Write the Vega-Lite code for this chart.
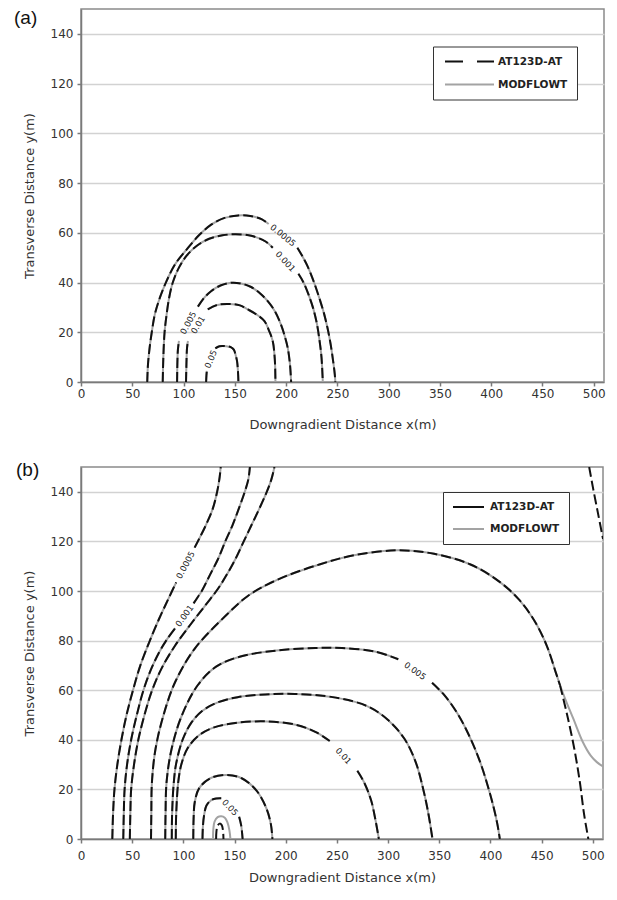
{
  "$schema": "https://vega.github.io/schema/vega-lite/v6.json",
  "padding": {"left": 13, "top": 7, "right": 4, "bottom": 4},
  "background": "white",
  "spacing": 27,
  "config": {
    "view": {"stroke": "#8a8a8a", "strokeWidth": 1.5},
    "axis": {"domainColor": "#7a7a7a", "domainWidth": 1.5, "tickColor": "#7a7a7a", "tickWidth": 1.5, "tickSize": 4, "labelFont": "DejaVu Sans", "labelFontSize": 12, "labelColor": "#333", "titleFont": "DejaVu Sans", "titleFontSize": 13, "titleFontWeight": "normal", "titleColor": "#333", "gridColor": "#d2d2d2", "gridWidth": 1.5}
  },
  "resolve": {"scale": {"color": "independent", "x": "independent", "y": "independent"}, "legend": {"color": "independent"}},
  "datasets": {
    "a": [
      {"c":"P1a","w":"both","x":64.6,"y":0},{"c":"P1a","w":"both","x":65.3,"y":7},{"c":"P1a","w":"both","x":66.9,"y":13.7},{"c":"P1a","w":"both","x":69,"y":20},{"c":"P1a","w":"both","x":72,"y":27.2},{"c":"P1a","w":"both","x":77,"y":34},{"c":"P1a","w":"both","x":83.4,"y":40.6},{"c":"P1a","w":"both","x":92,"y":47.5},{"c":"P1a","w":"both","x":104.5,"y":54},{"c":"P1a","w":"both","x":115,"y":59},{"c":"P1a","w":"both","x":127.3,"y":63.4},{"c":"P1a","w":"both","x":140,"y":66},{"c":"P1a","w":"both","x":153.3,"y":67},{"c":"P1a","w":"both","x":165,"y":66.8},{"c":"P1a","w":"both","x":176,"y":65.5},{"c":"P1a","w":"both","x":183,"y":63.5},
      {"c":"P1b","w":"both","x":211,"y":54},{"c":"P1b","w":"both","x":216,"y":50.5},{"c":"P1b","w":"both","x":221,"y":46.5},{"c":"P1b","w":"both","x":225.5,"y":42},{"c":"P1b","w":"both","x":229,"y":38},{"c":"P1b","w":"both","x":233,"y":33},{"c":"P1b","w":"both","x":237,"y":27.5},{"c":"P1b","w":"both","x":240.5,"y":21.5},{"c":"P1b","w":"both","x":243.5,"y":15},{"c":"P1b","w":"both","x":246,"y":8},{"c":"P1b","w":"both","x":247.5,"y":3},{"c":"P1b","w":"both","x":248,"y":0},
      {"c":"P2a","w":"both","x":79.7,"y":0},{"c":"P2a","w":"both","x":80.3,"y":10},{"c":"P2a","w":"both","x":81.5,"y":20},{"c":"P2a","w":"both","x":83.5,"y":27.2},{"c":"P2a","w":"both","x":86,"y":34},{"c":"P2a","w":"both","x":89.5,"y":40},{"c":"P2a","w":"both","x":95.5,"y":46},{"c":"P2a","w":"both","x":103,"y":50.8},{"c":"P2a","w":"both","x":113,"y":54.8},{"c":"P2a","w":"both","x":125,"y":57.6},{"c":"P2a","w":"both","x":138,"y":59},{"c":"P2a","w":"both","x":151,"y":59.4},{"c":"P2a","w":"both","x":166,"y":58.8},{"c":"P2a","w":"both","x":180,"y":56.5},{"c":"P2a","w":"both","x":187,"y":54},
      {"c":"P2b","w":"both","x":212,"y":43.5},{"c":"P2b","w":"both","x":217,"y":40},{"c":"P2b","w":"both","x":222,"y":35},{"c":"P2b","w":"both","x":226.5,"y":29.5},{"c":"P2b","w":"both","x":230,"y":23.5},{"c":"P2b","w":"both","x":232.5,"y":17},{"c":"P2b","w":"both","x":234.5,"y":10},{"c":"P2b","w":"both","x":235.8,"y":0},
      {"c":"P3a","w":"both","x":93.7,"y":0},{"c":"P3a","w":"both","x":94,"y":8},{"c":"P3a","w":"both","x":94.5,"y":13},{"c":"P3a","w":"both","x":95.5,"y":16.5},
      {"c":"P3b","w":"both","x":114,"y":30.3},{"c":"P3b","w":"both","x":120,"y":33.8},{"c":"P3b","w":"both","x":126.8,"y":36.5},{"c":"P3b","w":"both","x":136,"y":38.8},{"c":"P3b","w":"both","x":146.3,"y":39.9},{"c":"P3b","w":"both","x":156,"y":39.6},{"c":"P3b","w":"both","x":165.9,"y":38.2},{"c":"P3b","w":"both","x":175,"y":35.5},{"c":"P3b","w":"both","x":182.1,"y":32.5},{"c":"P3b","w":"both","x":189,"y":28.5},{"c":"P3b","w":"both","x":195,"y":23.1},{"c":"P3b","w":"both","x":199,"y":18},{"c":"P3b","w":"both","x":201.6,"y":13.7},{"c":"P3b","w":"both","x":203.8,"y":7},{"c":"P3b","w":"both","x":204.9,"y":0},
      {"c":"P4a","w":"both","x":102.4,"y":0},{"c":"P4a","w":"both","x":102.8,"y":7},{"c":"P4a","w":"both","x":103.4,"y":13.7},{"c":"P4a","w":"both","x":104.3,"y":16.5},
      {"c":"P4b","w":"both","x":123.6,"y":29.2},{"c":"P4b","w":"both","x":133,"y":31},{"c":"P4b","w":"both","x":144.7,"y":31.4},{"c":"P4b","w":"both","x":155,"y":30.8},{"c":"P4b","w":"both","x":162.6,"y":29.2},{"c":"P4b","w":"both","x":171,"y":27.2},{"c":"P4b","w":"both","x":178.9,"y":24.5},{"c":"P4b","w":"both","x":183.5,"y":20.5},{"c":"P4b","w":"both","x":187,"y":16.4},{"c":"P4b","w":"both","x":189,"y":9},{"c":"P4b","w":"both","x":189.6,"y":0},
      {"c":"P5a","w":"both","x":122,"y":0},{"c":"P5a","w":"both","x":122.3,"y":2.5},{"c":"P5a","w":"both","x":122.7,"y":4.5},
      {"c":"P5b","w":"both","x":131,"y":13.5},{"c":"P5b","w":"both","x":135,"y":14.4},{"c":"P5b","w":"both","x":141.5,"y":14.4},{"c":"P5b","w":"both","x":146,"y":14},{"c":"P5b","w":"both","x":149,"y":13},{"c":"P5b","w":"both","x":151,"y":10.5},{"c":"P5b","w":"both","x":152.2,"y":8.3},{"c":"P5b","w":"both","x":153.1,"y":4},{"c":"P5b","w":"both","x":153.5,"y":0}
    ],
    "la": [
      {"t":"0.0005","x":197,"y":59},
      {"t":"0.001","x":199.5,"y":48.5},
      {"t":"0.005","x":104.5,"y":23.8},
      {"t":"0.01","x":114,"y":23},
      {"t":"0.05","x":126.5,"y":9.2}
    ],
    "b": [
      {"c":"C1a","w":"both","x":30.6,"y":0},{"c":"C1a","w":"both","x":31.3,"y":10},{"c":"C1a","w":"both","x":32.7,"y":20},{"c":"C1a","w":"both","x":35.5,"y":30},{"c":"C1a","w":"both","x":39.5,"y":40},{"c":"C1a","w":"both","x":44.5,"y":50},{"c":"C1a","w":"both","x":50.8,"y":60},{"c":"C1a","w":"both","x":58,"y":70},{"c":"C1a","w":"both","x":66.7,"y":79.4},{"c":"C1a","w":"both","x":76,"y":88.5},{"c":"C1a","w":"both","x":85,"y":96.5},{"c":"C1a","w":"both","x":93,"y":103.5},
      {"c":"C1b","w":"both","x":111,"y":117.5},{"c":"C1b","w":"both","x":116,"y":121.5},{"c":"C1b","w":"both","x":122.5,"y":127},{"c":"C1b","w":"both","x":128.6,"y":133},{"c":"C1b","w":"both","x":133,"y":140},{"c":"C1b","w":"both","x":135.5,"y":146},{"c":"C1b","w":"both","x":136.5,"y":150},
      {"c":"C2a","w":"both","x":41.3,"y":0},{"c":"C2a","w":"both","x":41.8,"y":10},{"c":"C2a","w":"both","x":42.6,"y":20},{"c":"C2a","w":"both","x":45,"y":30},{"c":"C2a","w":"both","x":49,"y":40},{"c":"C2a","w":"both","x":54.5,"y":50},{"c":"C2a","w":"both","x":61,"y":60},{"c":"C2a","w":"both","x":68,"y":68},{"c":"C2a","w":"both","x":76,"y":75},{"c":"C2a","w":"both","x":84,"y":80.5},{"c":"C2a","w":"both","x":92,"y":85},
      {"c":"C2b","w":"both","x":110,"y":95},{"c":"C2b","w":"both","x":114,"y":97.5},{"c":"C2b","w":"both","x":118,"y":100},{"c":"C2b","w":"both","x":126,"y":106.5},{"c":"C2b","w":"both","x":134,"y":113},{"c":"C2b","w":"both","x":141,"y":120},{"c":"C2b","w":"both","x":148,"y":126.5},{"c":"C2b","w":"both","x":154,"y":133},{"c":"C2b","w":"both","x":160,"y":140},{"c":"C2b","w":"both","x":163.5,"y":145},{"c":"C2b","w":"both","x":165,"y":150},
      {"c":"C3","w":"both","x":47.7,"y":0},{"c":"C3","w":"both","x":48.2,"y":10},{"c":"C3","w":"both","x":49,"y":20},{"c":"C3","w":"both","x":51.8,"y":30},{"c":"C3","w":"both","x":56,"y":40},{"c":"C3","w":"both","x":62,"y":50},{"c":"C3","w":"both","x":69.5,"y":60},{"c":"C3","w":"both","x":79,"y":69},{"c":"C3","w":"both","x":92,"y":78},{"c":"C3","w":"both","x":107,"y":86.5},{"c":"C3","w":"both","x":122,"y":94.5},{"c":"C3","w":"both","x":134,"y":101},{"c":"C3","w":"both","x":143,"y":107},{"c":"C3","w":"both","x":151,"y":113},{"c":"C3","w":"both","x":159,"y":120},{"c":"C3","w":"both","x":166.5,"y":126.5},{"c":"C3","w":"both","x":174,"y":133},{"c":"C3","w":"both","x":181.5,"y":140},{"c":"C3","w":"both","x":186,"y":145},{"c":"C3","w":"both","x":189,"y":150},
      {"c":"A","w":"both","x":68.4,"y":0},{"c":"A","w":"both","x":68.7,"y":10},{"c":"A","w":"both","x":69.3,"y":22.9},{"c":"A","w":"both","x":72.8,"y":36.3},{"c":"A","w":"both","x":80.5,"y":49.8},{"c":"A","w":"both","x":92,"y":63.3},{"c":"A","w":"both","x":111,"y":76.7},{"c":"A","w":"both","x":141.8,"y":90.2},{"c":"A","w":"both","x":163,"y":98},{"c":"A","w":"both","x":191.6,"y":104.5},{"c":"A","w":"both","x":233.7,"y":110.8},{"c":"A","w":"both","x":268,"y":114.5},{"c":"A","w":"both","x":310,"y":116.4},{"c":"A","w":"both","x":345,"y":115},{"c":"A","w":"both","x":380,"y":110.8},{"c":"A","w":"both","x":408,"y":104},{"c":"A","w":"both","x":428,"y":96.5},{"c":"A","w":"both","x":443,"y":88},{"c":"A","w":"both","x":455,"y":78},{"c":"A","w":"both","x":464,"y":67},{"c":"A","w":"both","x":468,"y":62},
      {"c":"AK","w":"AT","x":468,"y":62},{"c":"AK","w":"AT","x":475,"y":50},{"c":"AK","w":"AT","x":482,"y":36.3},{"c":"AK","w":"AT","x":487.4,"y":22.9},{"c":"AK","w":"AT","x":491.5,"y":10},{"c":"AK","w":"AT","x":495.7,"y":0},
      {"c":"AM","w":"MOD","x":468,"y":62},{"c":"AM","w":"MOD","x":474,"y":55.5},{"c":"AM","w":"MOD","x":481,"y":48.5},{"c":"AM","w":"MOD","x":490.4,"y":39},{"c":"AM","w":"MOD","x":498,"y":33.6},{"c":"AM","w":"MOD","x":504,"y":31},{"c":"AM","w":"MOD","x":510,"y":29.3},
      {"c":"Ba","w":"both","x":82.3,"y":0},{"c":"Ba","w":"both","x":82.6,"y":10},{"c":"Ba","w":"both","x":83.6,"y":22.9},{"c":"Ba","w":"both","x":88.5,"y":36.3},{"c":"Ba","w":"both","x":98.5,"y":49.8},{"c":"Ba","w":"both","x":114,"y":62},{"c":"Ba","w":"both","x":132,"y":69.5},{"c":"Ba","w":"both","x":155,"y":73.5},{"c":"Ba","w":"both","x":191,"y":76},{"c":"Ba","w":"both","x":229,"y":77},{"c":"Ba","w":"both","x":255,"y":77},{"c":"Ba","w":"both","x":287,"y":75.6},{"c":"Ba","w":"both","x":310,"y":72.5},
      {"c":"Bb","w":"both","x":343,"y":63},{"c":"Bb","w":"both","x":355,"y":58},{"c":"Bb","w":"both","x":368,"y":50.5},{"c":"Bb","w":"both","x":380,"y":41},{"c":"Bb","w":"both","x":390,"y":31},{"c":"Bb","w":"both","x":397,"y":22},{"c":"Bb","w":"both","x":403,"y":13},{"c":"Bb","w":"both","x":406.8,"y":6},{"c":"Bb","w":"both","x":409.2,"y":0},
      {"c":"C","w":"both","x":88.7,"y":0},{"c":"C","w":"both","x":89,"y":10},{"c":"C","w":"both","x":90.5,"y":22},{"c":"C","w":"both","x":93,"y":30.5},{"c":"C","w":"both","x":99.6,"y":40.4},{"c":"C","w":"both","x":108,"y":47},{"c":"C","w":"both","x":118,"y":51.5},{"c":"C","w":"both","x":133,"y":55},{"c":"C","w":"both","x":153,"y":57.2},{"c":"C","w":"both","x":180,"y":58.3},{"c":"C","w":"both","x":208.8,"y":58.5},{"c":"C","w":"both","x":249,"y":57},{"c":"C","w":"both","x":280,"y":53.5},{"c":"C","w":"both","x":300,"y":48},{"c":"C","w":"both","x":316,"y":40.4},{"c":"C","w":"both","x":327,"y":31},{"c":"C","w":"both","x":334.3,"y":20.2},{"c":"C","w":"both","x":339.5,"y":10},{"c":"C","w":"both","x":343.4,"y":0},
      {"c":"Da","w":"both","x":92.6,"y":0},{"c":"Da","w":"both","x":93,"y":10},{"c":"Da","w":"both","x":95,"y":22.9},{"c":"Da","w":"both","x":98,"y":30},{"c":"Da","w":"both","x":104,"y":36.5},{"c":"Da","w":"both","x":115,"y":41.7},{"c":"Da","w":"both","x":130,"y":45},{"c":"Da","w":"both","x":153,"y":46.9},{"c":"Da","w":"both","x":182,"y":47.4},{"c":"Da","w":"both","x":210.7,"y":46},{"c":"Da","w":"both","x":230,"y":43},{"c":"Da","w":"both","x":243,"y":39.5},
      {"c":"Db","w":"both","x":270,"y":27.5},{"c":"Db","w":"both","x":277,"y":22.5},{"c":"Db","w":"both","x":283.5,"y":15.5},{"c":"Db","w":"both","x":288,"y":7},{"c":"Db","w":"both","x":291,"y":0},
      {"c":"E","w":"both","x":109.7,"y":0},{"c":"E","w":"both","x":110,"y":8},{"c":"E","w":"both","x":111.2,"y":15},{"c":"E","w":"both","x":115.5,"y":20.5},{"c":"E","w":"both","x":126.4,"y":24.5},{"c":"E","w":"both","x":141.8,"y":25.8},{"c":"E","w":"both","x":157,"y":24.5},{"c":"E","w":"both","x":171.5,"y":19.5},{"c":"E","w":"both","x":181,"y":12.5},{"c":"E","w":"both","x":185.5,"y":6},{"c":"E","w":"both","x":187,"y":0},
      {"c":"Fa","w":"both","x":118.7,"y":0},{"c":"Fa","w":"both","x":119.1,"y":5},{"c":"Fa","w":"both","x":120.2,"y":9.4},{"c":"Fa","w":"both","x":122.6,"y":13.5},{"c":"Fa","w":"both","x":127,"y":15.6},{"c":"Fa","w":"both","x":132,"y":16.3},{"c":"Fa","w":"both","x":137,"y":16.4},
      {"c":"Fb","w":"both","x":154.5,"y":9},{"c":"Fb","w":"both","x":156.5,"y":5.5},{"c":"Fb","w":"both","x":157.9,"y":0},
      {"c":"G","w":"MOD","x":129,"y":0},{"c":"G","w":"MOD","x":129.3,"y":4},{"c":"G","w":"MOD","x":130.5,"y":7},{"c":"G","w":"MOD","x":133.5,"y":8.8},{"c":"G","w":"MOD","x":137,"y":9.2},{"c":"G","w":"MOD","x":140.5,"y":8.6},{"c":"G","w":"MOD","x":143,"y":6.8},{"c":"G","w":"MOD","x":145,"y":3.5},{"c":"G","w":"MOD","x":146,"y":0},
      {"c":"H","w":"AT","x":132,"y":0},{"c":"H","w":"AT","x":132.3,"y":3},{"c":"H","w":"AT","x":133.3,"y":5.2},{"c":"H","w":"AT","x":135.5,"y":6.2},{"c":"H","w":"AT","x":137.5,"y":5.6},{"c":"H","w":"AT","x":138.7,"y":3.5},{"c":"H","w":"AT","x":139.2,"y":0},
      {"c":"TR","w":"AT","x":496.5,"y":150},{"c":"TR","w":"AT","x":500.5,"y":141},{"c":"TR","w":"AT","x":505.5,"y":130.5},{"c":"TR","w":"AT","x":510,"y":121}
    ],
    "lb": [
      {"t":"0.0005","x":102,"y":110.5},
      {"t":"0.001","x":101,"y":90},
      {"t":"0.005","x":326.5,"y":67.8},
      {"t":"0.01","x":256.5,"y":33.5},
      {"t":"0.05","x":145.7,"y":12.7}
    ]
  },
  "vconcat": [
    {
      "width": 523,
      "height": 373,
      "title": {"text": "(a)", "anchor": "start", "frame": "group", "orient": "top", "baseline": "top", "offset": -18.5, "dx": -67, "font": "Liberation Sans", "fontSize": 19, "fontWeight": "normal", "color": "#111"},
      "encoding": {
        "x": {"field": "x", "type": "quantitative", "scale": {"domain": [0, 510], "nice": false, "zero": false}, "axis": {"values": [0, 50, 100, 150, 200, 250, 300, 350, 400, 450, 500], "grid": false, "labelPadding": 2, "titlePadding": 19, "labelFlush": false}, "title": "Downgradient Distance x(m)"},
        "y": {"field": "y", "type": "quantitative", "scale": {"domain": [0, 150], "nice": false}, "axis": {"values": [0, 20, 40, 60, 80, 100, 120, 140], "grid": true, "labelPadding": 4, "titlePadding": 14}, "title": "Transverse Distance y(m)"}
      },
      "layer": [
        {
          "data": {"name": "a"},
          "transform": [{"filter": "datum.w !== 'AT'"}],
          "mark": {"type": "line", "strokeWidth": 2, "clip": true, "interpolate": "catmull-rom"},
          "encoding": {
            "detail": {"field": "c"},
            "color": {"datum": "MODFLOWT", "scale": {"domain": ["AT123D-AT", "MODFLOWT"], "range": ["#111111", "#a3a3a3"]},
              "legend": {"title": null, "orient": "none", "legendX": 352, "legendY": 37.5, "direction": "vertical", "symbolType": "M-0.6,0H9.2", "symbolSize": 100, "symbolStrokeWidth": 2, "labelOffset": 44, "padding": 9, "rowPadding": 11, "strokeColor": "#333", "fillColor": "white", "labelFont": "DejaVu Sans", "labelFontSize": 10.5, "labelFontWeight": "bold", "labelColor": "#222", "values": ["AT123D-AT", "MODFLOWT"],
                "encode": {"symbols": {"update": {"strokeDash": {"signal": "datum.value === 'AT123D-AT' ? [18, 14] : [1, 0]"}}}}}}
          }
        },
        {
          "data": {"name": "a"},
          "transform": [{"filter": "datum.w !== 'MOD'"}],
          "mark": {"type": "line", "strokeWidth": 2, "strokeDash": [10, 4], "clip": true, "interpolate": "catmull-rom"},
          "encoding": {
            "detail": {"field": "c"},
            "color": {"datum": "AT123D-AT", "scale": {"domain": ["AT123D-AT", "MODFLOWT"], "range": ["#111111", "#a3a3a3"]}}
          }
        },
        {"data": {"name": "la"}, "transform": [{"filter": "datum.t === '0.0005'"}], "mark": {"type": "text", "angle": 39, "font": "DejaVu Sans", "fontSize": 8.5, "color": "#222"}, "encoding": {"text": {"field": "t"}}},
        {"data": {"name": "la"}, "transform": [{"filter": "datum.t === '0.001'"}], "mark": {"type": "text", "angle": 47, "font": "DejaVu Sans", "fontSize": 8.5, "color": "#222"}, "encoding": {"text": {"field": "t"}}},
        {"data": {"name": "la"}, "transform": [{"filter": "datum.t === '0.005'"}], "mark": {"type": "text", "angle": -62, "font": "DejaVu Sans", "fontSize": 8.5, "color": "#222"}, "encoding": {"text": {"field": "t"}}},
        {"data": {"name": "la"}, "transform": [{"filter": "datum.t === '0.01'"}], "mark": {"type": "text", "angle": -58, "font": "DejaVu Sans", "fontSize": 8.5, "color": "#222"}, "encoding": {"text": {"field": "t"}}},
        {"data": {"name": "la"}, "transform": [{"filter": "datum.t === '0.05'"}], "mark": {"type": "text", "angle": -67, "font": "DejaVu Sans", "fontSize": 8.5, "color": "#222"}, "encoding": {"text": {"field": "t"}}}
      ]
    },
    {
      "width": 522,
      "height": 372,
      "title": {"text": "(b)", "anchor": "start", "frame": "group", "orient": "top", "baseline": "top", "offset": -12.7, "dx": -65, "font": "Liberation Sans", "fontSize": 19, "fontWeight": "normal", "color": "#111"},
      "encoding": {
        "x": {"field": "x", "type": "quantitative", "scale": {"domain": [0, 510], "nice": false, "zero": false}, "axis": {"values": [0, 50, 100, 150, 200, 250, 300, 350, 400, 450, 500], "grid": false, "labelPadding": 7, "titlePadding": 10, "labelFlush": false}, "title": "Downgradient Distance x(m)"},
        "y": {"field": "y", "type": "quantitative", "scale": {"domain": [0, 150], "nice": false}, "axis": {"values": [0, 20, 40, 60, 80, 100, 120, 140], "grid": true, "labelPadding": 4, "titlePadding": 14}, "title": "Transverse Distance y(m)"}
      },
      "layer": [
        {
          "data": {"name": "b"},
          "transform": [{"filter": "datum.w !== 'AT'"}],
          "mark": {"type": "line", "strokeWidth": 2, "clip": true, "interpolate": "catmull-rom"},
          "encoding": {
            "detail": {"field": "c"},
            "color": {"datum": "MODFLOWT", "scale": {"domain": ["AT123D-AT", "MODFLOWT"], "range": ["#111111", "#a3a3a3"]},
              "legend": {"title": null, "orient": "none", "legendX": 362, "legendY": 25, "direction": "vertical", "symbolType": "M-1,0H5.2", "symbolSize": 100, "symbolStrokeWidth": 2, "labelOffset": 26, "padding": 9, "rowPadding": 10, "strokeColor": "#333", "fillColor": "white", "labelFont": "DejaVu Sans", "labelFontSize": 10.5, "labelFontWeight": "bold", "labelColor": "#222", "values": ["AT123D-AT", "MODFLOWT"],
                "encode": {"symbols": {"update": {"strokeDash": {"value": [1, 0]}}}}}}
          }
        },
        {
          "data": {"name": "b"},
          "transform": [{"filter": "datum.w !== 'MOD'"}],
          "mark": {"type": "line", "strokeWidth": 2, "strokeDash": [10, 4], "clip": true, "interpolate": "catmull-rom"},
          "encoding": {
            "detail": {"field": "c"},
            "color": {"datum": "AT123D-AT", "scale": {"domain": ["AT123D-AT", "MODFLOWT"], "range": ["#111111", "#a3a3a3"]}}
          }
        },
        {"data": {"name": "lb"}, "transform": [{"filter": "datum.t === '0.0005'"}], "mark": {"type": "text", "angle": -62, "font": "DejaVu Sans", "fontSize": 8.5, "color": "#222"}, "encoding": {"text": {"field": "t"}}},
        {"data": {"name": "lb"}, "transform": [{"filter": "datum.t === '0.001'"}], "mark": {"type": "text", "angle": -54, "font": "DejaVu Sans", "fontSize": 8.5, "color": "#222"}, "encoding": {"text": {"field": "t"}}},
        {"data": {"name": "lb"}, "transform": [{"filter": "datum.t === '0.005'"}], "mark": {"type": "text", "angle": 35, "font": "DejaVu Sans", "fontSize": 8.5, "color": "#222"}, "encoding": {"text": {"field": "t"}}},
        {"data": {"name": "lb"}, "transform": [{"filter": "datum.t === '0.01'"}], "mark": {"type": "text", "angle": 47, "font": "DejaVu Sans", "fontSize": 8.5, "color": "#222"}, "encoding": {"text": {"field": "t"}}},
        {"data": {"name": "lb"}, "transform": [{"filter": "datum.t === '0.05'"}], "mark": {"type": "text", "angle": 46, "font": "DejaVu Sans", "fontSize": 8.5, "color": "#222"}, "encoding": {"text": {"field": "t"}}}
      ]
    }
  ]
}
